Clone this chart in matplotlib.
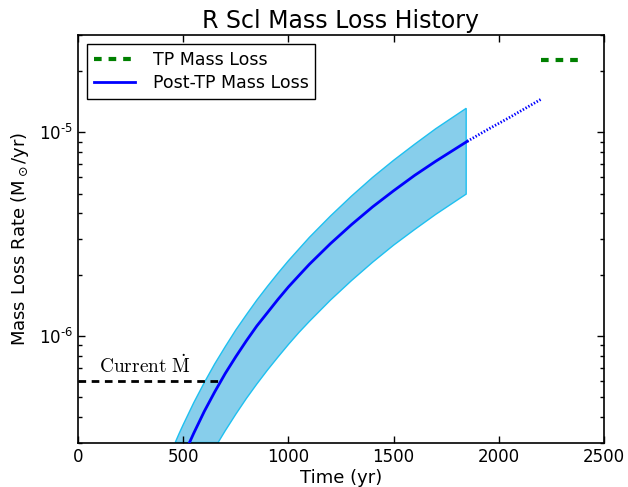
import matplotlib
matplotlib.use("Agg")
import matplotlib.pyplot as plt
from matplotlib.ticker import LogLocator, NullFormatter, FuncFormatter
import math

# ---- data ----
center_t = [530, 550, 600, 650, 700, 750, 800, 850, 900, 950, 1000, 1050, 1100, 1200,
            1300, 1400, 1500, 1600, 1700, 1850]
center_m = [3.0e-7, 3.33e-7, 4.26e-7, 5.32e-7, 6.55e-7, 7.91e-7, 9.46e-7, 1.12e-6,
            1.30e-6, 1.51e-6, 1.74e-6, 1.98e-6, 2.25e-6, 2.84e-6,
            3.52e-6, 4.30e-6, 5.16e-6, 6.14e-6, 7.20e-6, 9.02e-6]

extrap_t = [1850, 1950, 2050, 2200]
extrap_m = [9.02e-6, 1.035e-5, 1.18e-5, 1.45e-5]

upper_t = [462, 480, 500, 550, 600, 650, 700, 750, 800, 850, 900, 950, 1000, 1100,
           1200, 1300, 1400, 1500, 1600, 1700, 1845]
upper_m = [3.0e-7, 3.31e-7, 3.67e-7, 4.70e-7, 5.90e-7, 7.30e-7, 8.87e-7, 1.07e-6,
           1.27e-6, 1.50e-6, 1.75e-6, 2.03e-6, 2.34e-6, 3.05e-6,
           3.88e-6, 4.86e-6, 6.00e-6, 7.28e-6, 8.73e-6, 1.04e-5, 1.31e-5]

lower_t = [666, 700, 750, 800, 850, 900, 950, 1000, 1050, 1100, 1200, 1300, 1400,
           1500, 1600, 1700, 1845]
lower_m = [3.0e-7, 3.43e-7, 4.13e-7, 4.93e-7, 5.81e-7, 6.79e-7, 7.87e-7, 9.08e-7,
           1.04e-6, 1.18e-6, 1.50e-6, 1.87e-6, 2.30e-6,
           2.79e-6, 3.33e-6, 3.95e-6, 4.97e-6]

tp_t = [2200, 2375]
tp_m = [2.27e-5, 2.27e-5]

current_t = [0, 681]
current_m = [6.0e-7, 6.0e-7]

xticks = [0, 500, 1000, 1500, 2000, 2500]

# ---- style ----
plt.rcParams['lines.scale_dashes'] = False
plt.rcParams['font.family'] = ['DejaVu Sans']
plt.rcParams['mathtext.fontset'] = 'dejavusans'

fig = plt.figure(figsize=(6.28, 4.87), dpi=100, facecolor='white')
ax = fig.add_axes([78 / 628, 1 - 442.5 / 487, (604 - 78) / 628, (442.5 - 35) / 487])

# band
poly_t = upper_t + lower_t[::-1]
poly_m = upper_m + lower_m[::-1]
ax.fill(poly_t, poly_m, facecolor='#87CEEB', edgecolor='#1EC0F0', linewidth=1.0, zorder=1)

# curves
ax.plot(center_t, center_m, color='blue', linewidth=2, label='Post-TP Mass Loss', zorder=3)
ax.plot(extrap_t, extrap_m, color='blue', linewidth=2, dashes=(1, 1.3), zorder=3)
ax.plot(tp_t, tp_m, color='green', linewidth=3, dashes=(5.5, 5), label='TP Mass Loss', zorder=3)
ax.plot(current_t, current_m, color='black', linewidth=2, dashes=(5.5, 4), zorder=2)

ax.text(100, 6.3e-7, r'$\mathrm{Current}\ \dot{\mathrm{M}}$', fontsize=14,
        math_fontfamily='cm', ha='left', va='bottom')

ax.set_yscale('log')
ax.set_xlim(0, 2500)
ax.set_ylim(3e-7, 3e-5)
ax.set_xticks(xticks)
ax.yaxis.set_major_locator(LogLocator(base=10))
ax.yaxis.set_minor_locator(LogLocator(base=10, subs=range(2, 10)))
ax.yaxis.set_minor_formatter(NullFormatter())


def fmt(v, pos):
    e = int(round(math.log10(v)))
    s = str(e).replace('-', '\u2010')
    return r'$10^{' + s + '}$'


ax.yaxis.set_major_formatter(FuncFormatter(fmt))

ax.tick_params(which='both', direction='in', top=True, right=True, labelsize=12)
ax.tick_params(which='major', length=5, width=1)
ax.tick_params(which='minor', length=3, width=1)
ax.tick_params(axis='x', pad=4)

for s in ax.spines.values():
    s.set_linewidth(1.2)

ax.set_title('R Scl Mass Loss History', fontsize=17, pad=5)
ax.set_xlabel('Time (yr)', fontsize=13, labelpad=2)
ax.set_ylabel(r'Mass Loss Rate (M$_\odot$/yr)', fontsize=13, labelpad=6)

handles, labels = ax.get_legend_handles_labels()
order = [1, 0]
leg = ax.legend([handles[i] for i in order], [labels[i] for i in order],
                loc='upper left', fontsize=12.5, fancybox=False, framealpha=1,
                edgecolor='black', handlelength=2.4, handletextpad=1.0,
                labelspacing=0.3, borderaxespad=0.5)
leg.get_frame().set_linewidth(1.0)

fig.savefig('out.png', dpi=100, facecolor='white')
